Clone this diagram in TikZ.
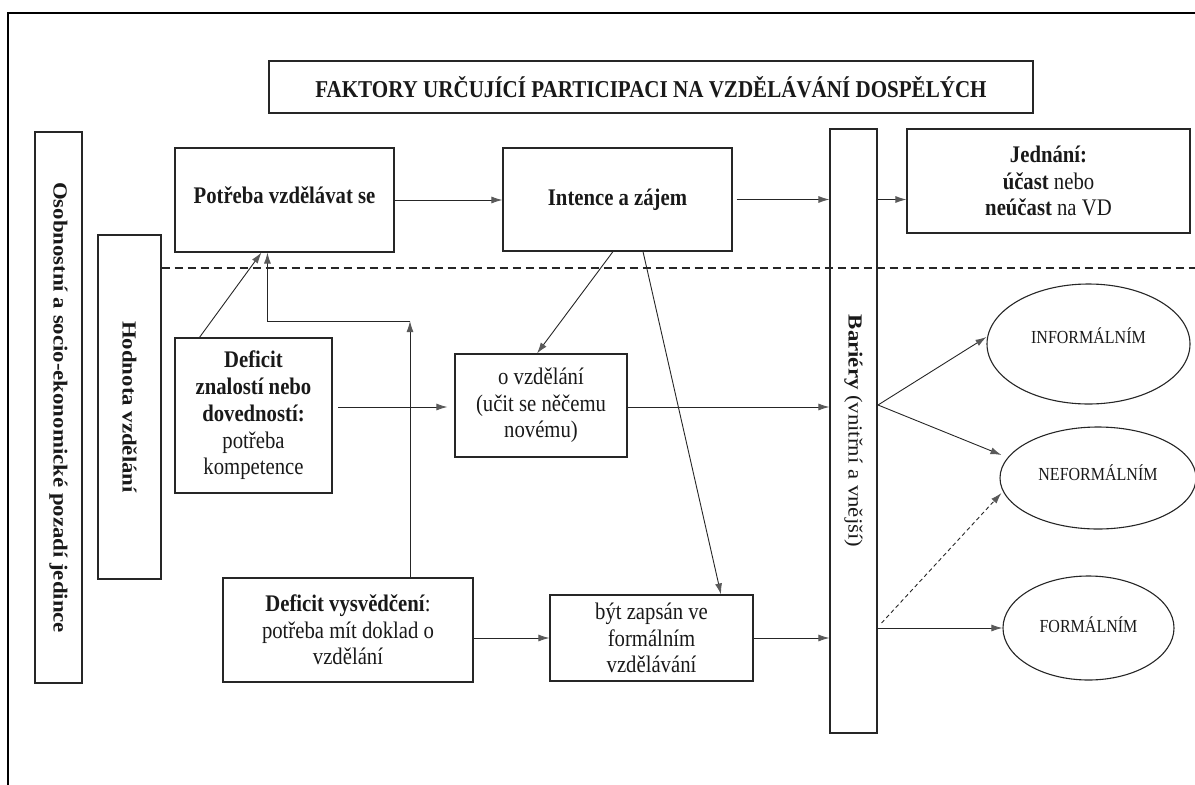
\documentclass[tikz,border=0pt]{standalone}
\usepackage{fontspec}
\setmainfont{Liberation Serif}[FakeStretch=0.87]
\newfontfamily\rotfont{Liberation Serif}[FakeStretch=1.14]
\usetikzlibrary{arrows.meta,shapes.geometric,calc}
\begin{document}
\begin{tikzpicture}[x=1pt,y=-1pt,
  box/.style={draw=black!85, line width=1.1pt, inner sep=0pt, align=center,
    font=\fontsize{23.8}{26.7}\selectfont, text=black!90},
  vbox/.style={box, font=\rotfont\fontsize{20}{24}\selectfont},
  oval/.style={ellipse, draw=black!85, line width=1.1pt, inner sep=0pt,
    font=\fontsize{18.4}{21}\selectfont, text=black!90},
  arr/.style={draw=black!85, line width=0.9pt, -{Latex[length=11pt,width=7pt,color=black!65]}},
  darr/.style={arr, dash pattern=on 4pt off 3pt},
  frame/.style={draw=black, line width=2pt},
  sep/.style={draw=black!85, line width=1.2pt, dash pattern=on 8pt off 5pt}
]
\useasboundingbox (0,0) rectangle (1195,785);
% outer frame (top and left sides)
\coordinate (ftl) at (8,13);
\coordinate (ftr) at (1195,13);
\coordinate (fbl) at (8,785);
\draw[frame] (fbl) -- (ftl) -- (ftr);

% nodes
\node[box, minimum width=764pt, minimum height=52pt, font=\fontsize{24.2}{27}\selectfont] (title) at (651,87)
  {\bfseries FAKTORY URČUJÍCÍ PARTICIPACI NA VZDĚLÁVÁNÍ DOSPĚLÝCH};
\node[vbox, minimum width=47pt, minimum height=551pt] (oso) at (58.5,407.5)
  {\rotatebox{-90}{\bfseries Osobnostní a socio-ekonomické pozadí jedince}};
\node[vbox, minimum width=63pt, minimum height=344pt] (hod) at (129.5,407)
  {\rotatebox{-90}{\bfseries Hodnota vzdělání}};
\node[box, minimum width=219pt, minimum height=104pt, text depth=10pt] (pot) at (284.5,200)
  {\bfseries Potřeba vzdělávat se};
\node[box, minimum width=229pt, minimum height=103pt] (int) at (617.5,199.5)
  {\bfseries Intence a zájem};
\node[vbox, minimum width=47pt, minimum height=604pt] (bar) at (853.5,431)
  {\rotatebox{-90}{\textbf{Bariéry} (vnitřní a vnější)}};
\node[box, minimum width=283pt, minimum height=104pt] (jed) at (1048.5,181)
  {\textbf{Jednání:}\\\textbf{účast} nebo\\\textbf{neúčast} na VD};
\node[box, minimum width=157pt, minimum height=155pt] (dzn) at (253.5,415.5)
  {\textbf{Deficit}\\\textbf{znalostí nebo}\\\textbf{dovedností:}\\potřeba\\kompetence};
\node[box, minimum width=172pt, minimum height=103pt] (ovz) at (541,405.5)
  {o vzdělání\\(učit se něčemu\\novému)};
\node[box, minimum width=250pt, minimum height=104pt] (dvy) at (348,630)
  {\textbf{Deficit vysvědčení}:\\potřeba mít doklad o\\vzdělání};
\node[box, minimum width=203pt, minimum height=86pt] (bzv) at (651.5,638)
  {být zapsán ve\\formálním\\vzdělávání};
\node[oval, minimum width=203pt, minimum height=120pt, text depth=16pt] (inf) at (1088.5,344)
  {INFORMÁLNÍM};
\node[oval, minimum width=196pt, minimum height=102pt, text depth=10pt] (nef) at (1098,478)
  {NEFORMÁLNÍM};
\node[oval, minimum width=171pt, minimum height=104pt, text depth=6pt] (fml) at (1088.5,628)
  {FORMÁLNÍM};

% dashed separator
\coordinate (sepend) at (1195,268);
\draw[sep] (hod.east |- sepend) -- (sepend);

% connectors
\draw[arr] (pot.east) -- (pot.east -| int.west);
\draw[arr] ([xshift=4pt]int.east) -- (int.east -| bar.west);
\draw[arr] (bar.east |- int.east) -- (jed.west |- int.east);

\draw[arr] ([xshift=25pt]dzn.north west) -- ([xshift=87pt]pot.south west);
\coordinate (junc) at (410,321);
\draw[arr] (dvy.north -| junc) -- (junc);
\draw[arr] (junc) -| ([xshift=93pt]pot.south west);

\coordinate (dznout) at (338,407);
\draw[arr] (dznout) -- ([xshift=-7pt]ovz.west |- dznout);
\draw[arr] ([xshift=-4.5pt]int.south) -- ([xshift=-4pt]ovz.north);
\draw[arr] ([xshift=25.5pt]int.south) -- ([xshift=69.5pt]bzv.north);
\draw[arr] (ovz.east |- dznout) -- (bar.west |- dznout);
\draw[arr] (bzv.east) -- (bzv.east -| bar.west);
\draw[arr] (dvy.east |- bzv.west) -- (bzv.west);

\coordinate (fan) at (878,405);
\draw[arr] (fan) -- ([yshift=7pt]inf.west);
\draw[arr] (fan) -- ([xshift=2pt,yshift=23pt]nef.west);
\draw[darr] ([xshift=4pt,yshift=5pt]bar.east |- fml.west) -- ([xshift=2pt,yshift=-15pt]nef.west);
\draw[arr] (bar.east |- fml.west) -- (fml.west);
\end{tikzpicture}
\end{document}
